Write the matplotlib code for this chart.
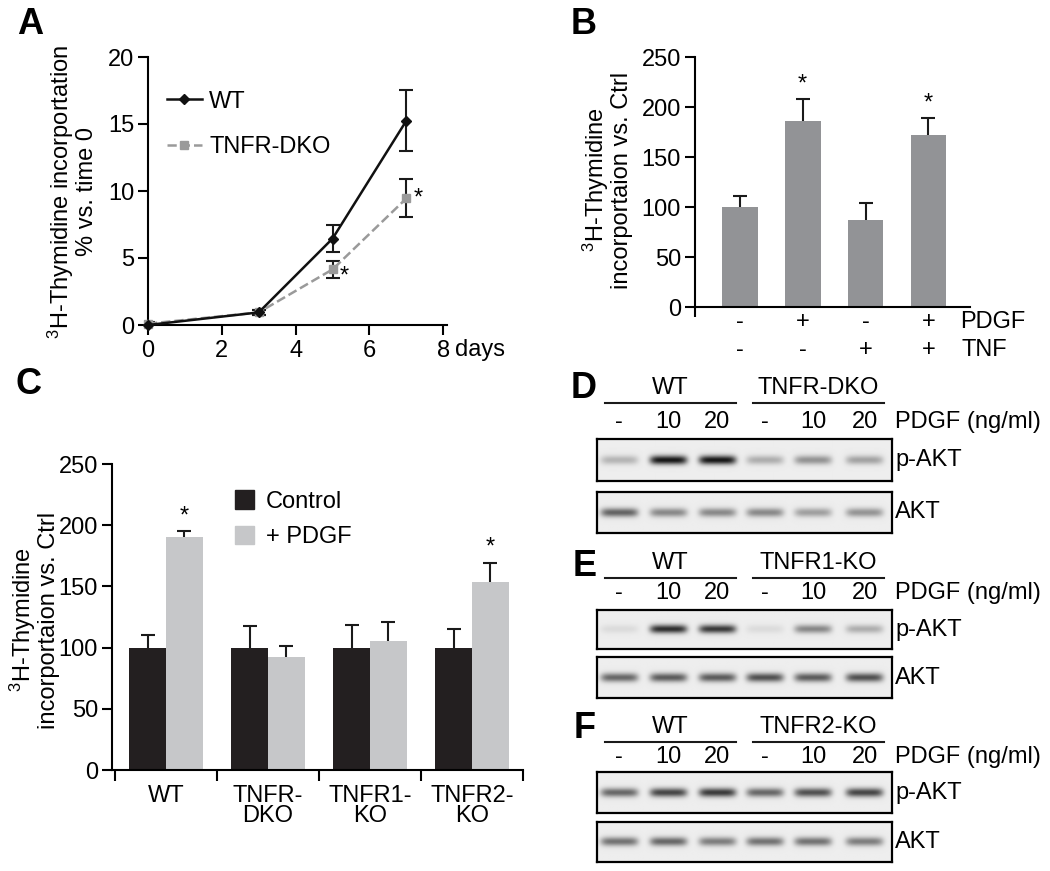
import matplotlib

matplotlib.use("Agg")

import matplotlib.pyplot as plt
import matplotlib.transforms as mtransforms
import numpy as np
from matplotlib.patches import Patch

plt.rcParams["font.family"] = ["Liberation Sans", "DejaVu Sans"]
plt.rcParams["mathtext.default"] = "regular"
plt.rcParams["font.size"] = 17
plt.rcParams["axes.linewidth"] = 1.5

FS = 17

# --- panel A: growth curve ---
days = [0, 3, 5, 7]
wt_growth = [0.0, 0.94, 6.45, 15.25]
wt_growth_err = [0.15, 0.2, 1.0, 2.3]
dko_growth = [0.1, 0.94, 4.15, 9.45]
dko_growth_err = [0.15, 0.2, 0.66, 1.42]

# --- panel B: PDGF / TNF treatment ---
b_values = [100, 185.5, 86.5, 171.5]
b_errors = [11, 22.5, 17, 17.5]
b_pdgf = ["-", "+", "-", "+"]
b_tnf = ["-", "-", "+", "+"]

# --- panel C: genotypes ---
c_groups = ["WT", "TNFR-\nDKO", "TNFR1-\nKO", "TNFR2-\nKO"]
c_control = [100, 100, 100, 100]
c_control_err = [10.5, 17.5, 18.5, 15]
c_pdgf = [190, 92.5, 105, 154]
c_pdgf_err = [5.5, 9, 16, 15.5]

# --- panels D-F: western blots (band darkness per lane, 0..1) ---
lane_labels = ["-", "10", "20", "-", "10", "20"]
blot_groups = [("D", "TNFR-DKO"), ("E", "TNFR1-KO"), ("F", "TNFR2-KO")]
pakt_levels = [
    [0.25, 0.95, 0.95, 0.28, 0.4, 0.33],
    [0.08, 0.85, 0.8, 0.08, 0.45, 0.28],
    [0.6, 0.75, 0.8, 0.6, 0.7, 0.75],
]
akt_levels = [
    [0.62, 0.45, 0.45, 0.45, 0.35, 0.4],
    [0.6, 0.65, 0.65, 0.7, 0.65, 0.7],
    [0.55, 0.6, 0.5, 0.55, 0.55, 0.5],
]

W, H = 1050, 871
fig = plt.figure(figsize=(W / 100, H / 100), dpi=100)


def fx(x):
    return x / W


def fy(y):
    return 1 - y / H


def px_axes(left, top, right, bottom):
    return fig.add_axes([fx(left), fy(bottom), (right - left) / W, (bottom - top) / H])


def ftext(x, y, s, **kw):
    fig.text(fx(x), fy(y), s, **kw)


def style_axes(ax):
    ax.spines["top"].set_visible(False)
    ax.spines["right"].set_visible(False)
    ax.tick_params(direction="out", length=7, width=1.5, labelsize=FS, pad=3)


def upper_errorbar(ax, x, y, err, capsize=5):
    # error bars pointing up only, no cap on the bar top
    _, caps, _ = ax.errorbar(x, y, yerr=[[0] * len(err), err], fmt="none",
                             ecolor="#1a1a1a", elinewidth=1.5, capsize=capsize,
                             capthick=1.5, zorder=1)
    caps[0].set_visible(False)


# panel letters
for letter, x, y in [("A", 30, 25), ("B", 584, 25), ("C", 28, 384),
                     ("D", 584, 388), ("E", 585, 566), ("F", 585, 729)]:
    ftext(x, y, letter, fontsize=26, fontweight="bold", ha="center", va="center")

# ---------------- A ----------------
ax = px_axes(148, 57, 447, 325)
style_axes(ax)
ax.errorbar(days, wt_growth, yerr=wt_growth_err, fmt="none", ecolor="#1a1a1a",
            elinewidth=1.5, capsize=5, capthick=1.5)
ax.errorbar(days, dko_growth, yerr=dko_growth_err, fmt="none", ecolor="#1a1a1a",
            elinewidth=1.5, capsize=5, capthick=1.5)
ax.plot(days, dko_growth, color="#9a9a9a", ls="--", lw=1.8, marker="s", ms=6,
        label="TNFR-DKO", clip_on=False, zorder=3)
ax.plot(days, wt_growth, color="#111111", lw=1.8, marker="D", ms=5,
        label="WT", clip_on=False, zorder=4)
ax.set_xlim(0, 8.1)
ax.set_ylim(0, 20)
ax.set_xticks([0, 2, 4, 6, 8])
ax.set_yticks([0, 5, 10, 15, 20])
ax.tick_params(axis="x", pad=4)
handles, labels = ax.get_legend_handles_labels()
ax.legend(handles[::-1], labels[::-1], frameon=False, loc="upper left",
          bbox_to_anchor=(0.062, 0.875), borderaxespad=0, borderpad=0,
          handlelength=1.5, handletextpad=0.3, labelspacing=1.0, fontsize=FS)
ax.text(7.2, dko_growth[3], "*", fontsize=FS, va="center")
ax.text(5.2, dko_growth[2] - 0.5, "*", fontsize=FS, va="center")
ftext(455, 350, "days", fontsize=FS, ha="left", va="center")
ftext(72, 192, "$^{3}$H-Thymidine incorportation\n% vs. time 0", fontsize=FS,
      rotation=90, ha="center", va="center", multialignment="center",
      linespacing=1.0)

# ---------------- B ----------------
ax = px_axes(695, 57, 970, 307)
style_axes(ax)
xb = np.arange(len(b_values))
ax.bar(xb, b_values, width=0.57, color="#929396", zorder=2)
upper_errorbar(ax, xb, b_values, b_errors)
for i, (v, e) in enumerate(zip(b_values, b_errors)):
    if b_pdgf[i] == "+":
        ax.text(i, v + e + 3, "*", ha="center", va="bottom", fontsize=FS)
ax.set_xlim(-0.71, 3.66)
ax.set_ylim(0, 250)
ax.set_yticks([0, 50, 100, 150, 200, 250])
ax.set_xticks([-0.71])
ax.set_xticklabels([""])
tb = mtransforms.blended_transform_factory(ax.transData, fig.transFigure)
for i in range(len(b_values)):
    ax.text(i, fy(322), b_pdgf[i], transform=tb, ha="center", va="center", fontsize=FS)
    ax.text(i, fy(350), b_tnf[i], transform=tb, ha="center", va="center", fontsize=FS)
ftext(960, 322, "PDGF", ha="left", va="center", fontsize=FS)
ftext(962, 350, "TNF", ha="left", va="center", fontsize=FS)
ftext(607, 180, "$^{3}$H-Thymidine\nincorportaion vs. Ctrl", fontsize=FS,
      rotation=90, ha="center", va="center", multialignment="center",
      linespacing=1.0)

# ---------------- C ----------------
ax = px_axes(112, 464, 523, 770)
style_axes(ax)
xc = np.arange(len(c_groups))
bw = 0.36
ax.bar(xc - bw / 2, c_control, width=bw, color="#231f20", zorder=2)
ax.bar(xc + bw / 2, c_pdgf, width=bw, color="#c6c7c9", zorder=2)
upper_errorbar(ax, xc - bw / 2, c_control, c_control_err)
upper_errorbar(ax, xc + bw / 2, c_pdgf, c_pdgf_err)
for i in (0, 3):
    ax.text(i + bw / 2, c_pdgf[i] + c_pdgf_err[i] + 3, "*", ha="center",
            va="bottom", fontsize=FS)
ax.set_xlim(-0.53, 3.5)
ax.set_ylim(0, 250)
ax.set_yticks([0, 50, 100, 150, 200, 250])
ax.set_xticks(xc)
ax.set_xticklabels(c_groups, linespacing=0.85)
ax.tick_params(axis="x", length=0, pad=11)
ax.set_xticks(np.arange(-0.5, 4.0, 1.0), minor=True)
ax.tick_params(axis="x", which="minor", length=8, width=1.5)
ax.legend(handles=[Patch(color="#231f20"), Patch(color="#c6c7c9")],
          labels=["Control", "+ PDGF"], frameon=False, loc="upper left",
          bbox_to_anchor=(0.3, 0.915), borderaxespad=0, borderpad=0,
          handlelength=0.8, handleheight=0.85, handletextpad=0.5,
          labelspacing=0.55, fontsize=FS)
ftext(34, 620, "$^{3}$H-Thymidine\nincorportaion vs. Ctrl", fontsize=FS,
      rotation=90, ha="center", va="center", multialignment="center",
      linespacing=1.0)

# ---------------- D, E, F: blots ----------------
lane_x = [0.45, 1.45, 2.45, 3.42, 4.4, 5.45]


def blot_image(levels):
    xs = np.linspace(0, 6, 300)
    ys = np.linspace(0, 1, 42)
    X, Y = np.meshgrid(xs, ys)
    img = np.full(X.shape, 0.93)
    for lev, c in zip(levels, lane_x):
        prof = np.exp(-((X - c) / 0.38) ** 6) * np.exp(-((Y - 0.5) / 0.11) ** 2)
        img = img - lev * 0.88 * prof
    return np.clip(img, 0, 1)


# (group label y, underline y, lane label y, pAKT top, pAKT bottom, AKT top, AKT bottom)
rows = [
    (388, 403, 422, 439, 481, 492, 533),
    (563, 578, 593, 610, 649, 657, 698),
    (727, 742, 757, 772, 813, 822, 862),
]
box_l, box_r = 597, 892
for k, (letter, ko) in enumerate(blot_groups):
    gy, uy, ly, p_top, p_bot, a_top, a_bot = rows[k]
    for levels, top, bot, name in [(pakt_levels[k], p_top, p_bot, "p-AKT"),
                                   (akt_levels[k], a_top, a_bot, "AKT")]:
        bx = px_axes(box_l, top, box_r, bot)
        bx.imshow(blot_image(levels), cmap="gray", vmin=0, vmax=1, aspect="auto",
                  extent=(0, 6, 0, 1), interpolation="bilinear")
        bx.set_xlim(0, 6)
        bx.set_ylim(0, 1)
        bx.set_xticks([])
        bx.set_yticks([])
        for sp in bx.spines.values():
            sp.set_linewidth(1.6)
        ftext(895, (top + bot) / 2, name, ha="left", va="center", fontsize=FS)
    lane_w = (box_r - box_l) / 6
    for i, lab in enumerate(lane_labels):
        ftext(box_l + lane_x[i] * lane_w, ly, lab, ha="center", va="center", fontsize=FS)
    ftext(895, ly, "PDGF (ng/ml)", ha="left", va="center", fontsize=FS)
    for name, x0, x1 in [("WT", 605, 736), (ko, 753, 884)]:
        fig.add_artist(plt.Line2D([fx(x0), fx(x1)], [fy(uy), fy(uy)],
                                  color="#1a1a1a", lw=1.5))
        ftext((x0 + x1) / 2, gy, name, ha="center", va="center", fontsize=FS)

fig.savefig("out.png", dpi=100)
